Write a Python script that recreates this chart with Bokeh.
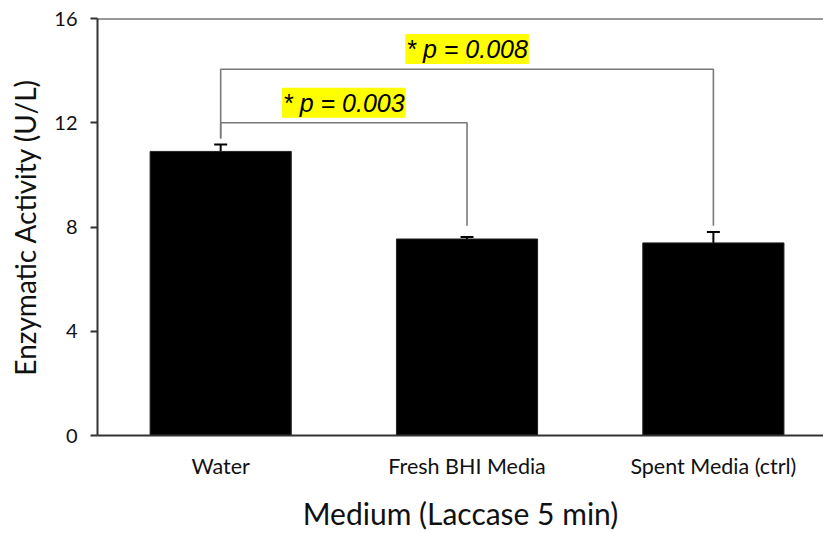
from bokeh.plotting import figure
from bokeh.models import (ColumnDataSource, Range1d, FixedTicker, Whisker, TeeHead,
                          Span, Label)
from bokeh.embed import file_html
from bokeh.resources import INLINE

# ---- data ----
categories = ["Water", "Fresh BHI Media", "Spent Media (ctrl)"]
activity = [10.9, 7.54, 7.39]
error = [0.27, 0.08, 0.42]
y_ticks = [0, 4, 8, 12, 16]
x_title = "Medium (Laccase 5 min)"
y_title = "Enzymatic Activity (U/L)"

# significance brackets
brackets_left = [0, 0]
brackets_right = [1, 2]
bracket_height = [12.0, 14.05]
left_foot = [11.4, 11.4]
right_foot = [8.05, 8.05]
p_text = ["* p = 0.003", "* p = 0.008"]
p_text_y = [12.77, 14.83]

xs = list(range(len(categories)))

p = figure(width=823, height=533, output_backend="svg", toolbar_location=None,
           x_range=Range1d(-0.5, 2.447), y_range=Range1d(0, 16),
           min_border_left=97, min_border_right=0, min_border_top=18, min_border_bottom=97)
p.outline_line_color = None
p.xgrid.visible = False
p.ygrid.visible = False
p.background_fill_color = "white"

src = ColumnDataSource(dict(
    x=xs, top=activity,
    lower=activity,
    upper=[a + e for a, e in zip(activity, error)],
))
p.vbar(x="x", top="top", width=0.573, source=src, fill_color="black", line_color="#222222")

w = Whisker(base="x", lower="lower", upper="upper", source=src,
            upper_head=TeeHead(size=13, line_width=2, line_color="black"),
            lower_head=None, line_width=2, line_color="black")
p.add_layout(w)

for li, ri, h, lf, rf in zip(brackets_left, brackets_right, bracket_height, left_foot, right_foot):
    p.line(x=[xs[li], xs[li], xs[ri], xs[ri]], y=[lf, h, h, rf],
           line_color="#7a7a7a", line_width=1.6)

for li, ri, t, ty in zip(brackets_left, brackets_right, p_text, p_text_y):
    p.add_layout(Label(x=(xs[li] + xs[ri]) / 2, y=ty, text=t,
                       text_align="center", text_baseline="middle",
                       text_font="Liberation Sans", text_font_style="italic",
                       text_font_size="25px", text_color="black",
                       background_fill_color="#FFFF00", padding=1))

p.add_layout(Span(location=16, dimension="width", line_color="#333333", line_width=2))

# y axis
ya = p.yaxis[0]
ya.ticker = FixedTicker(ticks=y_ticks)
ya.minor_tick_line_color = None
ya.major_tick_out = 7
ya.major_tick_in = 0
ya.major_tick_line_width = 2
ya.major_tick_line_color = "#333333"
ya.axis_line_width = 2
ya.axis_line_color = "#333333"
ya.major_label_text_font = "Lato"
ya.major_label_text_font_size = "20px"
ya.major_label_text_color = "#111111"
ya.major_label_standoff = 13
ya.axis_label = y_title
ya.axis_label_text_font = "Lato"
ya.axis_label_text_font_size = "28px"
ya.axis_label_text_font_style = "normal"
ya.axis_label_text_color = "#111111"
ya.axis_label_standoff = 9

# x axis
xa = p.xaxis[0]
xa.ticker = FixedTicker(ticks=xs)
xa.major_label_overrides = {i: c for i, c in zip(xs, categories)}
xa.minor_tick_line_color = None
xa.major_tick_out = 0
xa.major_tick_in = 0
xa.axis_line_width = 2
xa.axis_line_color = "#333333"
xa.major_label_text_font = "Lato"
xa.major_label_text_font_size = "21.5px"
xa.major_label_text_color = "#111111"
xa.major_label_standoff = 17
xa.axis_label = x_title
xa.axis_label_text_font = "Lato"
xa.axis_label_text_font_size = "30px"
xa.axis_label_text_font_style = "normal"
xa.axis_label_text_color = "#111111"
xa.axis_label_standoff = 13

open("out.html", "w").write(file_html(p, INLINE))
